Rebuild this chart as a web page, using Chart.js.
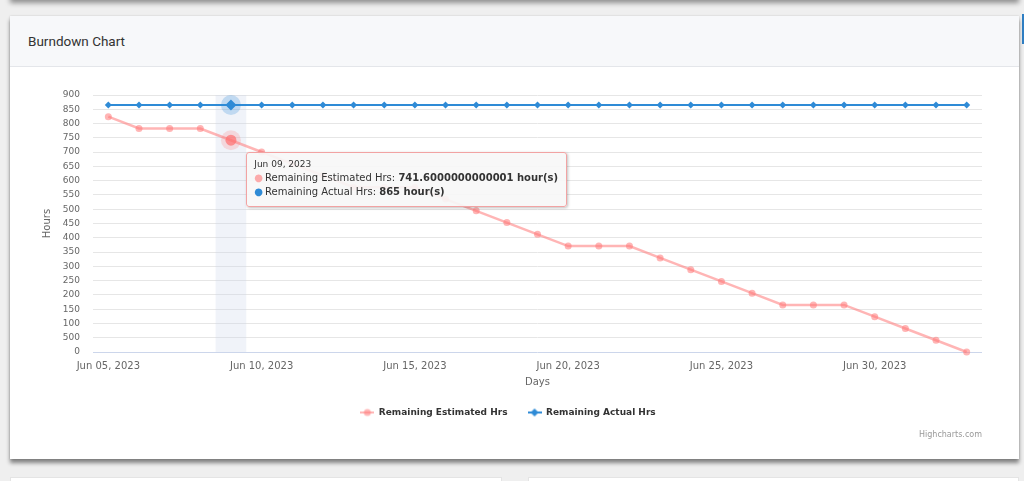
<!DOCTYPE html>
<html>
<head>
<meta charset="utf-8">
<title>Burndown Chart</title>
<script src="https://cdn.jsdelivr.net/npm/chart.js@4.4.0/dist/chart.umd.min.js"></script>
<style>
  html, body { margin: 0; padding: 0; }
  body {
    width: 1024px; height: 481px; overflow: hidden; position: relative;
    background: #efefef; font-family: "DejaVu Sans", sans-serif;
  }
  .prev-card {
    position: absolute; left: 10px; top: -40px; width: 1009px; height: 40px;
    background: #fff; box-shadow: 0 3px 5px rgba(0,0,0,0.4);
  }
  .side-tab {
    position: absolute; left: 1022px; top: 14px; width: 4px; height: 30px; background: #2f7fc4;
  }
  .card {
    position: absolute; left: 10px; top: 16px; width: 1009px; height: 443px;
    background: #fff; box-shadow: 0 4px 4px rgba(0,0,0,0.45), 0 0 2px rgba(0,0,0,0.15);
  }
  .card-header {
    height: 50px; background: #f7f8fa; border-bottom: 1px solid #e4e6ea;
    font-family: Roboto, "Open Sans", sans-serif; font-size: 13.5px; font-weight: 400; color: #333;
    line-height: 50px; padding-left: 18px;
  }
  .chart-box { position: relative; width: 1009px; height: 392px; }
  .credits {
    position: absolute; right: 37px; top: 363px; font-size: 8px; color: #999;
  }
  .lower-card {
    position: absolute; top: 477px; height: 40px; background: #fff;
    border: 1px solid #e4e4e4;
  }
  #tip {
    position: absolute; display: none; pointer-events: none;
    background: rgba(247,247,247,0.92); border: 1px solid #f2a3a3; border-radius: 3px;
    box-shadow: 1px 1px 3px rgba(0,0,0,0.25);
    padding: 6px 8px 7px 7px; white-space: nowrap; color: #333;
  }
  #tip .t-title { font-size: 9px; margin-bottom: 2px; }
  #tip .t-line { font-size: 10px; line-height: 14px; }
  #tip .t-line b { font-weight: bold; }
  #tip .dot { font-size: 10px; margin-right: 2px; }
</style>
</head>
<body>
<div class="prev-card"></div>
<div class="side-tab"></div>
<div class="card">
  <div class="card-header">Burndown Chart</div>
  <div class="chart-box">
    <canvas id="burndownChart"></canvas>
    <div id="tip"></div>
    <div class="credits">Highcharts.com</div>
  </div>
</div>
<div class="lower-card" style="left:10px;width:490px"></div>
<div class="lower-card" style="left:528px;width:489px"></div>

<script>
const categories = [
    'Jun 05, 2023', 'Jun 06, 2023', 'Jun 07, 2023', 'Jun 08, 2023', 'Jun 09, 2023',
    'Jun 10, 2023', 'Jun 11, 2023', 'Jun 12, 2023', 'Jun 13, 2023', 'Jun 14, 2023',
    'Jun 15, 2023', 'Jun 16, 2023', 'Jun 17, 2023', 'Jun 18, 2023', 'Jun 19, 2023',
    'Jun 20, 2023', 'Jun 21, 2023', 'Jun 22, 2023', 'Jun 23, 2023', 'Jun 24, 2023',
    'Jun 25, 2023', 'Jun 26, 2023', 'Jun 27, 2023', 'Jun 28, 2023', 'Jun 29, 2023',
    'Jun 30, 2023', 'Jul 01, 2023', 'Jul 02, 2023', 'Jul 03, 2023'
];

const remainingEstimated = [
    824, 782.8, 782.8, 782.8, 741.6000000000001,
    700.4, 659.2, 618, 576.8, 576.8,
    576.8, 535.6, 494.4, 453.2, 412,
    370.8, 370.8, 370.8, 329.6, 288.4,
    247.2, 206, 164.8, 164.8, 164.8,
    123.6, 82.4, 41.2, 0
];

const remainingActual = [
    865, 865, 865, 865, 865,
    865, 865, 865, 865, 865,
    865, 865, 865, 865, 865,
    865, 865, 865, 865, 865,
    865, 865, 865, 865, 865,
    865, 865, 865, 865
];

const xTickLabels = ['Jun 05, 2023', 'Jun 10, 2023', 'Jun 15, 2023', 'Jun 20, 2023', 'Jun 25, 2023', 'Jun 30, 2023'];
const yTickLabels = ['0', '500', '100', '150', '200', '250', '300', '350', '400', '450',
                     '500', '550', '600', '650', '700', '750', '800', '850', '900'];

const hoveredIndex = 4;

const pinkLine = 'rgba(255,120,120,0.55)';
const pinkHalo = 'rgba(255,120,120,0.22)';
const blueLine = '#2f8bd6';
const blueHalo = 'rgba(47,139,214,0.25)';

// small line + marker pictures for the legend
function legendIcon(color, shape) {
    const c = document.createElement('canvas');
    c.width = 14; c.height = 10;
    const g = c.getContext('2d');
    g.strokeStyle = color; g.lineWidth = 2;
    g.beginPath(); g.moveTo(0, 5); g.lineTo(14, 5); g.stroke();
    g.fillStyle = color;
    g.beginPath();
    if (shape === 'diamond') {
        g.moveTo(7, 1); g.lineTo(11, 5); g.lineTo(7, 9); g.lineTo(3, 5); g.closePath();
    } else {
        g.arc(7, 5, 3.5, 0, Math.PI * 2);
    }
    g.fill();
    return c;
}

// crosshair band + halos behind the hovered points
const hoverBand = {
    id: 'hoverBand',
    beforeDatasetsDraw(chart) {
        const { ctx, chartArea, scales } = chart;
        const active = chart.getActiveElements();
        if (!active.length) return;
        const idx = active[0].index;
        const half = (scales.x.getPixelForValue(1) - scales.x.getPixelForValue(0)) / 2;
        const cx = scales.x.getPixelForValue(idx);
        ctx.save();
        ctx.fillStyle = 'rgba(204,214,235,0.3)';
        ctx.fillRect(cx - half, chartArea.top, half * 2, chartArea.bottom - chartArea.top);
        active.forEach(a => {
            ctx.fillStyle = a.datasetIndex === 0 ? pinkHalo : blueHalo;
            ctx.beginPath();
            ctx.arc(a.element.x, a.element.y, 10, 0, Math.PI * 2);
            ctx.fill();
        });
        ctx.restore();
    }
};

// legend sits a little right of the canvas centre
const legendNudge = {
    id: 'legendNudge',
    afterLayout(chart) {
        chart.legend.left += 12;
        chart.legend.right += 12;
    }
};

function externalTip(context) {
    const { chart, tooltip } = context;
    const tip = document.getElementById('tip');
    if (tooltip.opacity === 0 || !tooltip.dataPoints || !tooltip.dataPoints.length) {
        tip.style.display = 'none';
        return;
    }
    const i = tooltip.dataPoints[0].dataIndex;
    let html = '<div class="t-title">' + categories[i] + '</div>';
    tooltip.dataPoints.forEach(dp => {
        const ds = chart.data.datasets[dp.datasetIndex];
        const dotColor = dp.datasetIndex === 0 ? 'rgba(255,120,120,0.6)' : blueLine;
        html += '<div class="t-line"><span class="dot" style="color:' + dotColor + '">\u25CF</span>' +
            ds.label + ': <b>' + dp.raw + ' hour(s)</b></div>';
    });
    tip.innerHTML = html;
    const xs = chart.scales.x;
    const half = (xs.getPixelForValue(1) - xs.getPixelForValue(0)) / 2;
    const pt = chart.getDatasetMeta(0).data[i];
    tip.style.left = (xs.getPixelForValue(i) + half) + 'px';
    tip.style.top = (pt.y + 12) + 'px';
    tip.style.display = 'block';
}

const ctx = document.getElementById('burndownChart').getContext('2d');
const chart = new Chart(ctx, {
    type: 'line',
    data: {
        labels: categories,
        datasets: [
            {
                label: 'Remaining Estimated Hrs',
                data: remainingEstimated,
                borderColor: pinkLine,
                backgroundColor: pinkLine,
                borderWidth: 2.5,
                pointStyle: 'circle',
                pointRadius: 3.5,
                pointBorderWidth: 0,
                pointBackgroundColor: pinkLine,
                pointHoverRadius: 5.5,
                pointHoverBorderWidth: 0,
                pointHoverBackgroundColor: 'rgba(255,110,110,0.7)',
                tension: 0,
                clip: false
            },
            {
                label: 'Remaining Actual Hrs',
                data: remainingActual,
                borderColor: blueLine,
                backgroundColor: blueLine,
                borderWidth: 2,
                pointStyle: 'rectRot',
                pointRadius: 3.5,
                pointBorderWidth: 0,
                pointBackgroundColor: blueLine,
                pointHoverRadius: 5.5,
                pointHoverBorderWidth: 0,
                pointHoverBackgroundColor: blueLine,
                tension: 0,
                clip: false
            }
        ]
    },
    options: {
        responsive: true,
        maintainAspectRatio: false,
        animation: false,
        events: [],
        interaction: { mode: 'index', intersect: false },
        layout: { padding: { left: 0, right: 37, top: 28, bottom: 32 } },
        scales: {
            x: {
                offset: true,
                grid: { display: false, drawTicks: false },
                border: { display: false },
                ticks: {
                    autoSkip: false,
                    maxRotation: 0,
                    padding: 8,
                    color: '#666',
                    font: { family: 'DejaVu Sans', size: 10 },
                    callback: function (value) {
                        const label = this.getLabelForValue(value);
                        return xTickLabels.includes(label) ? label : '';
                    }
                },
                title: {
                    display: true,
                    text: 'Days',
                    color: '#666',
                    font: { family: 'DejaVu Sans', size: 10 },
                    padding: { top: 0, bottom: 0 }
                },
                afterFit: scale => { scale.height = 36; }
            },
            y: {
                min: 0,
                max: 900,
                grid: {
                    drawTicks: false,
                    color: c => (c.tick && c.tick.value === 0) ? '#ccd6eb' : '#e6e6e6',
                    lineWidth: 1
                },
                border: { display: false },
                ticks: {
                    stepSize: 50,
                    padding: 13,
                    color: '#666',
                    font: { family: 'DejaVu Sans', size: 9 },
                    callback: value => yTickLabels[value / 50]
                },
                title: {
                    display: true,
                    text: 'Hours',
                    color: '#666',
                    font: { family: 'DejaVu Sans', size: 10 },
                    padding: { top: 31, bottom: 0 }
                },
                afterFit: scale => { scale.width = 83; }
            }
        },
        plugins: {
            legend: {
                position: 'bottom',
                labels: {
                    usePointStyle: true,
                    pointStyleWidth: 14,
                    padding: 20,
                    color: '#333',
                    font: { family: 'DejaVu Sans', size: 9, weight: 'bold' },
                    generateLabels: chart => chart.data.datasets.map((ds, i) => ({
                        text: ds.label,
                        fontColor: '#333',
                        pointStyle: legendIcon(i === 0 ? pinkLine : blueLine, i === 0 ? 'circle' : 'diamond'),
                        datasetIndex: i,
                        lineWidth: 0,
                        hidden: false
                    }))
                }
            },
            tooltip: {
                enabled: false,
                animation: false,
                external: externalTip
            }
        }
    },
    plugins: [hoverBand, legendNudge]
});

const active = [
    { datasetIndex: 0, index: hoveredIndex },
    { datasetIndex: 1, index: hoveredIndex }
];
const meta = chart.getDatasetMeta(0).data[hoveredIndex];
chart.setActiveElements(active);
chart.tooltip.setActiveElements(active, { x: meta.x, y: meta.y });
chart.update();
</script>
</body>
</html>
